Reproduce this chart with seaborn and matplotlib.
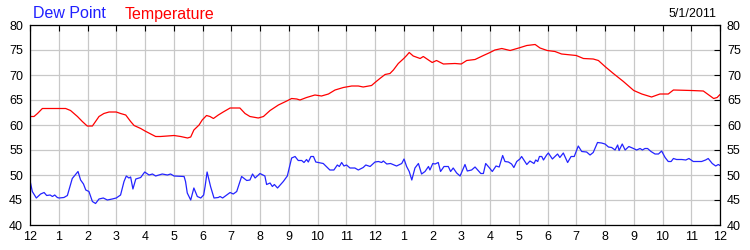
import matplotlib
matplotlib.use("Agg")
import matplotlib.pyplot as plt
import seaborn as sns
import pandas as pd

temp_hours = [0.00, 0.14, 0.26, 0.43, 1.01, 1.24, 1.41, 1.65, 1.82, 1.99, 2.17, 2.28, 2.40, 2.57, 2.75,
              3.00, 3.15, 3.33, 3.50, 3.62, 3.85, 4.00, 4.20, 4.37, 4.54, 4.78, 5.01, 5.24, 5.48, 5.59,
              5.70, 5.88, 5.99, 6.14, 6.26, 6.38, 6.55, 6.72, 6.96, 7.30, 7.48, 7.65, 7.94, 8.12, 8.35,
              8.64, 8.93, 9.10, 9.28, 9.39, 9.62, 9.91, 10.14, 10.38, 10.61, 10.90, 11.19, 11.42, 11.59,
              11.88, 12.00, 12.17, 12.35, 12.52, 12.64, 12.81, 13.00, 13.10, 13.19, 13.33, 13.57, 13.68,
              13.86, 13.99, 14.14, 14.38, 14.78, 15.00, 15.19, 15.48, 15.77, 16.00, 16.17, 16.41, 16.70,
              17.00, 17.28, 17.57, 17.74, 17.99, 18.26, 18.49, 19.00, 19.25, 19.59, 19.77, 20.00, 20.29,
              20.64, 21.00, 21.28, 21.62, 21.91, 22.20, 22.38, 23.00, 23.42, 23.78, 23.90, 24.00]
temp_values = [61.7, 61.7, 62.3, 63.3, 63.3, 63.3, 62.9, 61.7, 60.7, 59.8, 59.8, 60.7, 61.7, 62.3, 62.6,
               62.6, 62.3, 62.0, 60.7, 59.9, 59.3, 58.8, 58.2, 57.7, 57.7, 57.8, 57.9, 57.7, 57.4, 57.6,
               59.0, 60.0, 61.0, 61.9, 61.7, 61.3, 62.0, 62.6, 63.4, 63.4, 62.3, 61.7, 61.4, 61.7, 62.9,
               64.0, 64.8, 65.3, 65.2, 65.0, 65.5, 66.0, 65.8, 66.2, 67.0, 67.5, 67.8, 67.8, 67.6,
               67.9, 68.5, 69.3, 70.1, 70.3, 71.0, 72.3, 73.3, 73.9, 74.5, 73.8, 73.3, 73.7,
               73.0, 72.5, 72.9, 72.2, 72.3, 72.2, 72.9, 73.1, 73.9, 74.5, 75.0, 75.3, 74.9,
               75.4, 75.9, 76.1, 75.4, 74.9, 74.7, 74.2, 73.9, 73.3, 73.2, 72.9, 71.7, 70.3,
               68.7, 66.9, 66.2, 65.6, 66.2, 66.2, 67.0, 66.9, 66.8, 65.3, 65.5, 66.1]

dew_hours = [0.00, 0.08, 0.22, 0.37, 0.49, 0.58, 0.70, 0.78, 0.86, 0.95, 1.01, 1.18, 1.30, 1.47, 1.67,
             1.76, 1.86, 1.94, 2.05, 2.17, 2.28, 2.40, 2.55, 2.69, 2.86, 3.00, 3.15, 3.27, 3.35, 3.44,
             3.50, 3.58, 3.68, 3.85, 3.99, 4.14, 4.26, 4.37, 4.60, 4.78, 4.89, 5.01, 5.36, 5.41, 5.47,
             5.59, 5.70, 5.82, 5.94, 6.04, 6.09, 6.16, 6.28, 6.40, 6.55, 6.61, 6.70, 6.84, 6.96, 7.07,
             7.19, 7.36, 7.54, 7.65, 7.74, 7.83, 8.00, 8.17, 8.23, 8.35, 8.43, 8.50, 8.61, 8.81, 8.95,
             9.10, 9.22, 9.33, 9.45, 9.53, 9.62, 9.68, 9.77, 9.86, 9.94, 10.20, 10.43, 10.57, 10.69,
             10.76, 10.84, 10.92, 11.01, 11.13, 11.30, 11.42, 11.59, 11.68, 11.83, 12.00, 12.12, 12.23,
             12.29, 12.41, 12.54, 12.75, 12.93, 13.01, 13.10, 13.19, 13.28, 13.39, 13.51, 13.62, 13.74,
             13.86, 13.91, 14.01, 14.09, 14.20, 14.28, 14.40, 14.55, 14.63, 14.72, 14.84, 14.96, 15.13,
             15.21, 15.36, 15.48, 15.59, 15.68, 15.77, 15.85, 15.97, 16.08, 16.21, 16.32, 16.44, 16.52,
             16.64, 16.75, 16.83, 16.93, 17.04, 17.10, 17.28, 17.39, 17.53, 17.59, 17.66, 17.72, 17.80,
             17.86, 17.97, 18.03, 18.17, 18.26, 18.35, 18.43, 18.55, 18.70, 18.82, 18.93, 19.07, 19.19,
             19.36, 19.48, 19.59, 19.74, 19.88, 20.00, 20.12, 20.23, 20.35, 20.44, 20.49, 20.60, 20.70,
             20.83, 20.99, 21.10, 21.22, 21.30, 21.39, 21.48, 21.60, 21.74, 21.86, 21.97, 22.09, 22.20,
             22.30, 22.38, 22.49, 22.67, 22.81, 22.92, 23.07, 23.36, 23.50, 23.59, 23.73, 23.85, 23.94,
             24.00]
dew_values = [48.9, 46.7, 45.4, 46.2, 46.5, 45.9, 46.0, 45.7, 46.0, 45.5, 45.4, 45.5, 45.9, 49.3, 50.7,
              49.0, 48.2, 47.0, 46.7, 44.7, 44.3, 45.2, 45.4, 45.0, 45.2, 45.4, 46.0, 48.7, 49.8, 49.4,
              49.6, 47.2, 49.2, 49.5, 50.6, 50.0, 50.2, 49.8, 50.2, 50.0, 50.2, 49.8, 49.7, 48.7, 46.4,
              45.0, 47.4, 45.7, 45.4, 46.0, 47.7, 50.6, 47.7, 45.4, 45.5, 45.7, 45.4, 46.0, 46.5, 46.2,
              46.7, 49.7, 48.9, 49.0, 50.2, 49.4, 50.3, 49.8, 48.1, 48.4, 47.7, 48.1, 47.4, 48.7, 49.8,
              53.4, 53.7, 52.9, 52.9, 52.5, 53.1, 52.6, 53.7, 53.7, 52.6, 52.3, 51.0, 51.0, 52.0,
              51.7, 52.5, 51.8, 52.0, 51.4, 51.4, 51.0, 51.5, 52.0, 51.7, 52.6, 52.7, 52.5,
              52.8, 52.2, 52.3, 51.8, 52.3, 53.2, 51.7, 50.7, 49.0, 51.4, 52.3, 50.2, 50.7,
              51.7, 51.0, 52.3, 52.2, 52.5, 50.7, 51.7, 51.7, 50.7, 51.4, 50.4, 49.8, 52.1,
              50.8, 51.0, 51.6, 50.9, 50.3, 50.3, 52.3, 51.5, 50.7, 51.8, 51.6, 53.9, 52.7,
              52.6, 52.2, 51.5, 52.7, 53.2, 53.7, 52.1, 52.8, 52.3, 53.0, 52.7, 53.7, 53.7,
              53.0, 54.0, 54.4, 53.2, 53.7, 54.2, 53.5, 54.4, 52.5, 53.7, 53.7, 55.8, 54.7,
              54.6, 54.0, 54.5, 56.5, 56.4, 56.2, 55.6, 55.5, 55.0, 56.0, 54.9, 56.2, 55.0,
              55.7, 55.3, 55.0, 55.3, 55.0, 55.3, 55.3, 54.7, 54.2, 54.2, 54.8, 53.5, 52.7,
              52.7, 53.3, 53.1, 53.1, 53.0, 53.3, 52.7, 52.7, 53.0, 53.3, 52.3, 51.8, 52.1,
              51.9]

hour_labels = ["12", "1", "2", "3", "4", "5", "6", "7", "8", "9", "10", "11",
               "12", "1", "2", "3", "4", "5", "6", "7", "8", "9", "10", "11", "12"]
y_ticks = [40, 45, 50, 55, 60, 65, 70, 75, 80]
date_label = "5/1/2011"

sns.set_style("white")
plt.rcParams["font.family"] = ["Liberation Sans", "DejaVu Sans"]

temp_df = pd.DataFrame({"hour": temp_hours, "value": temp_values})
dew_df = pd.DataFrame({"hour": dew_hours, "value": dew_values})

fig = plt.figure(figsize=(7.5, 2.5), dpi=100)
ax = fig.add_axes([0.04, 0.1, 0.92, 0.8])

sns.lineplot(data=dew_df, x="hour", y="value", ax=ax, color="#2424FF", linewidth=0.9)
sns.lineplot(data=temp_df, x="hour", y="value", ax=ax, color="#FF0000", linewidth=0.9)

ax.set_xlim(0, 24)
ax.set_ylim(40, 80)
ax.set_xticks(range(25))
ax.set_xticklabels(hour_labels)
ax.set_yticks(y_ticks)
ax.set_xlabel("")
ax.set_ylabel("")
ax.grid(True, color="#C8C8C8", linewidth=0.9)
ax.set_axisbelow(True)
for s in ax.spines.values():
    s.set_color("black")
    s.set_linewidth(0.9)
ax.tick_params(axis="both", which="both", direction="in", length=4, width=0.8, color="black",
               top=True, right=True, labelright=True, labelsize=9, labelcolor="black")
ax.tick_params(axis="y", pad=5)
ax.tick_params(axis="x", pad=4)

fig.text(0.044, 0.926, "Dew Point", color="#2020FF", fontsize=11.5, va="baseline", ha="left")
fig.text(0.166, 0.926, "Temperature", color="#FF0000", fontsize=11.5, va="baseline", ha="left")
fig.text(0.955, 0.932, date_label, color="black", fontsize=9, va="baseline", ha="right")

fig.savefig("out.png", dpi=100)
